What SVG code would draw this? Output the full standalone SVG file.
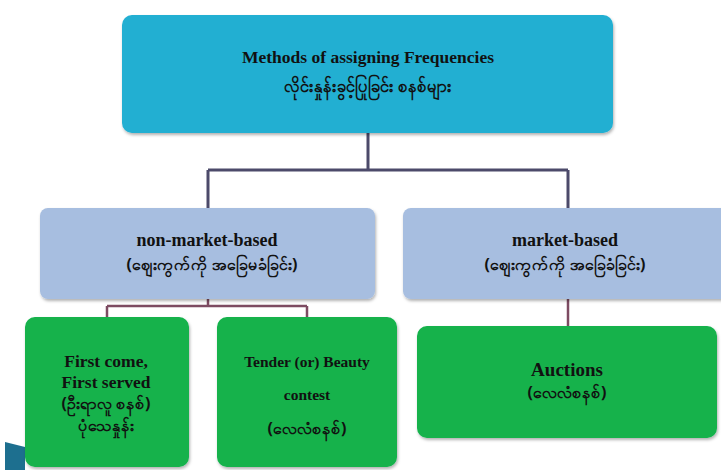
<svg xmlns="http://www.w3.org/2000/svg" width="721" height="470" viewBox="0 0 721 470">
  <defs>
    <filter id="sh" x="-5%" y="-5%" width="110%" height="115%">
      <feDropShadow dx="1" dy="2" stdDeviation="1.5" flood-color="#000" flood-opacity="0.3"/>
    </filter>
    <style>
      .top { fill: #21afd2; }
      .mid { fill: #a7bee0; }
      .leaf { fill: #12b24c; }
      .t { font-family: "Liberation Serif", "Noto Sans", serif; font-weight: bold; fill: #111; text-anchor: middle; }
      .my { font-family: "Noto Sans", "DejaVu Sans", sans-serif; font-weight: bold; fill: #111; text-anchor: middle; }
      .c1 { fill: none; stroke: #4c4a6a; stroke-width: 3; }
      .c2 { fill: none; stroke: #7d4b62; stroke-width: 2.5; }
    </style>
  </defs>
  <rect width="721" height="470" fill="#ffffff"/>
  <polygon points="5,442 25,447 25,470 5,470" fill="#1d6f8f"/>

  <g id="connectors">
    <path class="c1" d="M368,133 V170 M208,170 H568 M208,170 V208 M568,170 V208"/>
    <path class="c2" d="M208,299 V306 M107,306 H307 M107,306 V317 M307,306 V317"/>
    <path class="c2" d="M568,299 V326"/>
  </g>

  <g id="n-root">
    <rect class="top" x="122" y="15" width="491" height="118" rx="10" filter="url(#sh)"/>
    <text class="t" x="368" y="63" font-size="17.5">Methods of assigning Frequencies</text>
    <text class="my" x="368" y="92" font-size="16.5">လိုင်းနှုန်းခွင့်ပြုခြင်း စနစ်များ</text>
  </g>

  <g id="n-nonmarket">
    <rect class="mid" x="40" y="208" width="335" height="91" rx="8" filter="url(#sh)"/>
    <text class="t" x="207" y="246" font-size="18">non-market-based</text>
    <text class="my" x="212" y="270" font-size="16">(ဈေးကွက်ကို အခြေမခံခြင်း)</text>
  </g>

  <g id="n-market">
    <rect class="mid" x="403" y="208" width="340" height="91" rx="8" filter="url(#sh)"/>
    <text class="t" x="565" y="246" font-size="18">market-based</text>
    <text class="my" x="565" y="270" font-size="16">(ဈေးကွက်ကို အခြေခံခြင်း)</text>
  </g>

  <g id="n-fcfs">
    <rect class="leaf" x="25" y="317" width="164" height="150" rx="10" filter="url(#sh)"/>
    <text class="t" x="106" y="367" font-size="17.5">First come,</text>
    <text class="t" x="106" y="388" font-size="17.5">First served</text>
    <text class="my" x="106" y="409" font-size="16">(ဦးရာလူ စနစ်)</text>
    <text class="my" x="106" y="431" font-size="16">ပုံသေနှုန်း</text>
  </g>

  <g id="n-tender">
    <rect class="leaf" x="217" y="317" width="180" height="150" rx="10" filter="url(#sh)"/>
    <text class="t" x="307" y="367" font-size="15.5" style="font-weight:600">Tender (or) Beauty</text>
    <text class="t" x="307" y="400" font-size="15.5" style="font-weight:600">contest</text>
    <text class="my" x="307" y="434" font-size="16">(လေလံစနစ်)</text>
  </g>

  <g id="n-auctions">
    <rect class="leaf" x="417" y="326" width="300" height="112" rx="10" filter="url(#sh)"/>
    <text class="t" x="567" y="376" font-size="19">Auctions</text>
    <text class="my" x="567" y="398" font-size="16">(လေလံစနစ်)</text>
  </g>
</svg>
